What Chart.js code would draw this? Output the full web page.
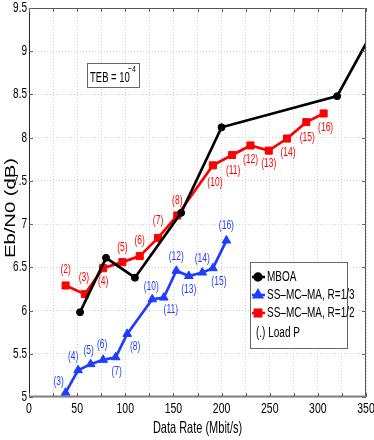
<!DOCTYPE html>
<html>
<head>
<meta charset="utf-8">
<script src="https://cdn.jsdelivr.net/npm/chart.js@4/dist/chart.umd.min.js"></script>
<style>
  body { margin: 0; background: #fff; }
  #wrap { width: 374px; height: 440px; }
</style>
</head>
<body>
<div id="wrap"><canvas id="chart" width="374" height="440"></canvas></div>
<script>
// data
const xTicks = [0, 50, 100, 150, 200, 250, 300, 350];
const yTicks = [5, 5.5, 6, 6.5, 7, 7.5, 8, 8.5, 9, 9.5];

const mboaRate = [53, 80, 110, 158, 200, 320, 360];
const mboaEbN0 = [5.98, 6.61, 6.38, 7.13, 8.12, 8.48, 9.29];

const r13Rate = [38, 51, 64, 77, 90, 102, 128, 140, 153, 166, 180, 191, 205];
const r13EbN0 = [5.05, 5.31, 5.38, 5.43, 5.46, 5.73, 6.13, 6.15, 6.46, 6.40, 6.44, 6.49, 6.81];
const r13Load = [3, 4, 5, 6, 7, 8, 10, 11, 12, 13, 14, 15, 16];

const r12Rate = [38, 58, 77, 97, 115, 134, 154, 191, 211, 230, 249, 268, 288, 306];
const r12EbN0 = [6.29, 6.19, 6.49, 6.56, 6.63, 6.84, 7.10, 7.68, 7.80, 7.91, 7.85, 7.99, 8.18, 8.28];
const r12Load = [2, 3, 4, 5, 6, 7, 8, 10, 11, 12, 13, 14, 15, 16];

// where each "(P)" label sits next to its marker
const r13LabelNudge = [[-7,-11],[-5,-14],[-2,-14],[-1,-15],[1,14],[8,13],[-1,-13],[7,12],[0,-14],[0,14],[0,-14],[6,13],[0,-15]];
const r12LabelNudge = [[0,-16],[-1,-17],[0,13],[0,-15],[0,-15],[0,-17],[0,-15],[2,17],[1,16],[0,14],[0,13],[1,14],[1,15],[2,14]];

const BLUE = '#1f3dff';
const RED = '#ff0000';
const FONT = '"Liberation Sans", Arial, sans-serif';

function pts(xs, ys) {
  return xs.map((x, i) => ({ x: x, y: ys[i] }));
}

// matlab export is stretched vertically, so text gets a y scale
function txt(ctx, s, x, y, size, k, color, align, base, rot) {
  ctx.save();
  ctx.translate(x, y);
  ctx.scale(1, k);
  if (rot) ctx.rotate(rot);
  ctx.font = size + 'px ' + FONT;
  ctx.fillStyle = color;
  ctx.textAlign = align;
  ctx.textBaseline = base;
  ctx.fillText(s, 0, 0);
  ctx.restore();
}

const decor = {
  id: 'decor',
  afterDatasetsDraw(chart) {
    const ctx = chart.ctx;
    const xs = chart.scales.x, ys = chart.scales.y;
    r13Load.forEach((p, i) => {
      const n = r13LabelNudge[i];
      txt(ctx, '(' + p + ')', xs.getPixelForValue(r13Rate[i]) + n[0],
          ys.getPixelForValue(r13EbN0[i]) + n[1], 8.5, 1.45, BLUE, 'center', 'middle');
    });
    r12Load.forEach((p, i) => {
      const n = r12LabelNudge[i];
      txt(ctx, '(' + p + ')', xs.getPixelForValue(r12Rate[i]) + n[0],
          ys.getPixelForValue(r12EbN0[i]) + n[1], 8.5, 1.45, RED, 'center', 'middle');
    });
  },
  afterDraw(chart) {
    const ctx = chart.ctx;
    const a = chart.chartArea;
    const xs = chart.scales.x, ys = chart.scales.y;

    // axes box + inward ticks
    ctx.save();
    ctx.strokeStyle = '#555';
    ctx.lineWidth = 1;
    ctx.strokeRect(a.left + 0.5, a.top + 0.5, a.right - a.left - 1, a.bottom - a.top - 1);
    ctx.strokeStyle = '#222';
    ctx.beginPath();
    ctx.moveTo(a.left + 0.5, a.top); ctx.lineTo(a.left + 0.5, a.bottom);
    ctx.stroke();
    ctx.strokeStyle = '#808080';
    ctx.lineWidth = 2;
    ctx.beginPath();
    ctx.moveTo(a.left, a.bottom - 0.5); ctx.lineTo(a.right, a.bottom - 0.5);
    ctx.stroke();
    ctx.lineWidth = 1;
    ctx.strokeStyle = '#666';
    ctx.beginPath();
    xs.ticks.forEach(t => {
      const px = Math.round(xs.getPixelForValue(t.value)) + 0.5;
      ctx.moveTo(px, a.bottom); ctx.lineTo(px, a.bottom - 4);
      ctx.moveTo(px, a.top); ctx.lineTo(px, a.top + 4);
    });
    ys.ticks.forEach(t => {
      const py = Math.round(ys.getPixelForValue(t.value)) + 0.5;
      ctx.moveTo(a.left, py); ctx.lineTo(a.left + 4, py);
      ctx.moveTo(a.right, py); ctx.lineTo(a.right - 4, py);
    });
    ctx.stroke();
    ctx.restore();

    // tick labels
    xTicks.forEach(v => txt(ctx, String(v), xs.getPixelForValue(v), a.bottom + 12, 10.5, 1.45, '#000', 'center', 'middle'));
    yTicks.forEach(v => txt(ctx, String(v), a.left - 2, ys.getPixelForValue(v), 10, 1.45, '#000', 'right', 'middle'));

    // axis titles
    txt(ctx, 'Data Rate (Mbit/s)', (a.left + a.right) / 2, a.bottom + 36, 11, 1.5, '#000', 'center', 'alphabetic');
    txt(ctx, 'Eb/N0 (dB)', 15, 208, 15, 1.35, '#000', 'center', 'alphabetic', -Math.PI / 2);

    // TEB box
    ctx.save();
    ctx.fillStyle = '#fff';
    ctx.fillRect(87, 63, 52, 24);
    ctx.strokeStyle = '#666';
    ctx.strokeRect(87.5, 63.5, 52, 24);
    ctx.restore();
    txt(ctx, 'TEB = 10', 90, 82, 9.5, 1.45, '#000', 'left', 'alphabetic');
    txt(ctx, '\u22124', 128, 72, 7, 1.4, '#000', 'left', 'alphabetic');

    // legend
    const L = 250, T = 262, R = 347, B = 348;
    ctx.save();
    ctx.fillStyle = '#fff';
    ctx.fillRect(L, T, R - L, B - T);
    ctx.strokeStyle = '#666';
    ctx.strokeRect(L + 0.5, T + 0.5, R - L, B - T);
    const rows = [
      ['MBOA', '#000', 'circle', 277],
      ['SS\u2013MC\u2013MA, R=1/3', BLUE, 'triangle', 295],
      ['SS\u2013MC\u2013MA, R=1/2', RED, 'rect', 313]
    ];
    rows.forEach(r => {
      ctx.strokeStyle = r[1];
      ctx.lineWidth = 2.5;
      ctx.beginPath();
      ctx.moveTo(252, r[3]); ctx.lineTo(265, r[3]);
      ctx.stroke();
      Chart.helpers.drawPoint(ctx, { pointStyle: r[2], radius: r[2] === 'circle' ? 3.5 : 4.5, borderWidth: 1, rotation: 0 }, 258, r[3]);
      ctx.fillStyle = r[1];
      ctx.fill();
      txt(ctx, r[0], 267, r[3], 10, 1.4, '#000', 'left', 'middle');
    });
    ctx.restore();
    txt(ctx, '(.) Load P', 256, 333, 10, 1.4, '#000', 'left', 'middle');
  }
};

const ds = (label, data, color, style, radius) => ({
  label: label,
  data: data,
  borderColor: color,
  backgroundColor: color,
  borderWidth: 2.7,
  pointStyle: style,
  pointRadius: radius,
  pointBorderWidth: 1,
  pointHoverRadius: radius,
  tension: 0
});

new Chart(document.getElementById('chart'), {
  type: 'line',
  data: {
    datasets: [
      ds('MBOA', pts(mboaRate, mboaEbN0), '#000', 'circle', 3.5),
      ds('SS\u2013MC\u2013MA, R=1/3', pts(r13Rate, r13EbN0), BLUE, 'triangle', 5),
      ds('SS\u2013MC\u2013MA, R=1/2', pts(r12Rate, r12EbN0), RED, 'rect', 5)
    ]
  },
  options: {
    responsive: false,
    animation: false,
    events: [],
    layout: { padding: { left: 0, right: 8, top: 8, bottom: 0 } },
    plugins: { legend: { display: false }, tooltip: { enabled: false } },
    scales: {
      x: {
        type: 'linear', min: 0, max: 350,
        ticks: { stepSize: 25, display: false },
        grid: { color: '#cfcfcf', drawTicks: false },
        border: { display: false, dash: [1, 2] },
        afterFit: s => { s.height = 43; s.paddingLeft = 0; s.paddingRight = 0; }
      },
      y: {
        min: 5, max: 9.5,
        ticks: { stepSize: 0.5, display: false },
        grid: { color: '#cfcfcf', drawTicks: false },
        border: { display: false, dash: [1, 2] },
        afterFit: s => { s.width = 29; s.paddingTop = 0; s.paddingBottom = 0; }
      }
    }
  },
  plugins: [decor]
});
</script>
</body>
</html>
